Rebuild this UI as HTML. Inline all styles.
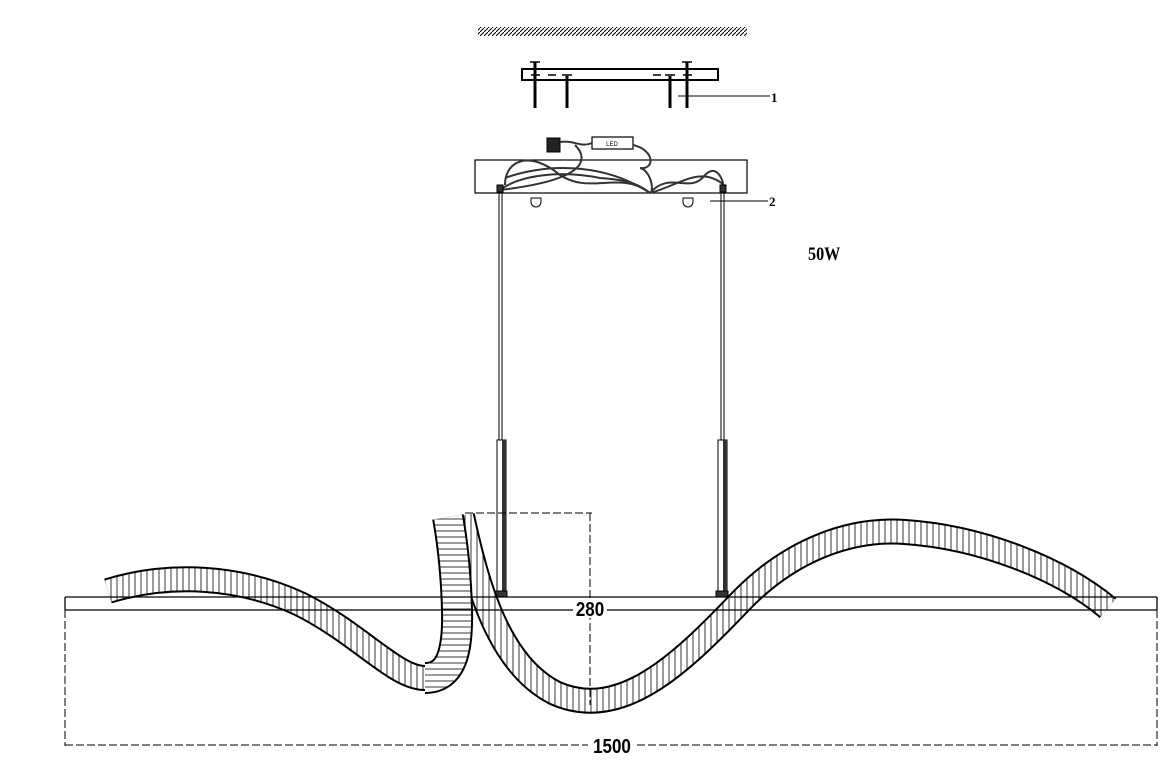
<!DOCTYPE html>
<html><head><meta charset="utf-8"><style>
html,body{margin:0;padding:0;background:#fff;}
svg{display:block;}
</style></head><body>
<svg width="1173" height="761" viewBox="0 0 1173 761" xmlns="http://www.w3.org/2000/svg">
<defs>
<pattern id="hc" width="4" height="4" patternUnits="userSpaceOnUse"><rect width="4" height="4" fill="#fff"/><path d="M0,4 L4,0" stroke="#000" stroke-width="1"/></pattern>
<pattern id="vh" width="6" height="6" patternUnits="userSpaceOnUse"><line x1="3" y1="0" x2="3" y2="6" stroke="#222" stroke-width="0.9"/></pattern>
<pattern id="hh" width="6" height="6" patternUnits="userSpaceOnUse"><line x1="0" y1="3" x2="6" y2="3" stroke="#222" stroke-width="0.9"/></pattern>
<path id="pA" d="M108,591 C170,572 240,576 300,604 C360,634 395,678 425,678"/>
<path id="pL" d="M425,678 C452,678 458,650 457,610 C456,570 452,540 448,517"/>
<path id="pB" d="M462,516 C478,590 500,665 555,693 C620,722 680,665 740,602 C790,550 850,528 905,532 C980,537 1060,568 1108,608"/>
<mask id="mA" maskUnits="userSpaceOnUse" x="0" y="0" width="1173" height="761"><use href="#pA" stroke="#fff" stroke-width="26" fill="none"/><use href="#pA" stroke="#000" stroke-width="22" fill="none"/></mask>
<mask id="mL" maskUnits="userSpaceOnUse" x="0" y="0" width="1173" height="761"><use href="#pL" stroke="#fff" stroke-width="32" fill="none"/><use href="#pL" stroke="#000" stroke-width="28" fill="none"/></mask>
<mask id="mB" maskUnits="userSpaceOnUse" x="0" y="0" width="1173" height="761"><use href="#pB" stroke="#fff" stroke-width="26" fill="none"/><use href="#pB" stroke="#000" stroke-width="22" fill="none"/></mask>
</defs>
<g fill="none" stroke="#000">
<!-- ceiling -->
<rect x="478" y="27" width="269" height="9" fill="url(#hc)" stroke="none"/>
<!-- bracket -->
<rect x="522" y="69" width="196" height="11" stroke-width="2"/>
<g stroke-width="1.5">
<line x1="535" y1="62" x2="535" y2="108" stroke-width="3"/><line x1="530" y1="62" x2="540" y2="62"/>
<line x1="687" y1="62" x2="687" y2="108" stroke-width="3"/><line x1="682" y1="62" x2="692" y2="62"/>
<line x1="567" y1="76" x2="567" y2="108" stroke-width="3"/><line x1="670" y1="76" x2="670" y2="108" stroke-width="3"/>
<line x1="548" y1="75" x2="556" y2="75"/><line x1="653" y1="75" x2="661" y2="75"/>
<line x1="531" y1="75" x2="540" y2="75"/><line x1="562" y1="75" x2="572" y2="75"/>
<line x1="665" y1="75" x2="675" y2="75"/><line x1="683" y1="75" x2="692" y2="75"/>
</g>
<line x1="678" y1="96" x2="770" y2="96" stroke-width="1"/>
<!-- canopy -->
<rect x="475" y="160" width="272" height="33" stroke-width="1.2"/>
<rect x="592" y="137" width="41" height="12" stroke-width="1.2"/>
<rect x="547" y="138" width="13" height="14" fill="#222" stroke-width="1"/>
<g stroke="#333" stroke-width="2">
<path d="M560,142 C575,140 580,148 592,143"/>
<path d="M575,145 C590,160 585,180 500,190"/>
<path d="M505,185 C505,160 530,150 560,175 C590,195 620,170 650,193"/>
<path d="M500,190 C520,175 560,170 600,178 C630,180 640,185 650,193"/>
<path d="M505,178 C540,165 600,160 650,193"/>
<path d="M633,145 C655,150 655,170 640,168 C650,170 655,190 650,193"/>
<path d="M650,193 C670,170 690,195 705,175 C715,165 722,175 724,188"/>
<path d="M650,193 C680,185 700,165 724,185"/>
</g>
<rect x="497" y="185" width="6" height="7" fill="#333" stroke-width="1"/>
<rect x="720" y="185" width="6" height="7" fill="#333" stroke-width="1"/>
<path d="M531,198 h10 v4 a5,5 0 0 1 -10,0z" stroke-width="1"/>
<path d="M683,198 h10 v4 a5,5 0 0 1 -10,0z" stroke-width="1"/>
<line x1="710" y1="201" x2="768" y2="201" stroke-width="1"/>
<!-- rods -->
<line x1="499" y1="192" x2="499" y2="440" stroke-width="1"/><line x1="502" y1="192" x2="502" y2="440" stroke-width="1"/>
<line x1="721" y1="192" x2="721" y2="440" stroke-width="1"/><line x1="724" y1="192" x2="724" y2="440" stroke-width="1"/>
<rect x="497" y="440" width="9" height="153" stroke-width="1"/><rect x="502" y="440" width="4" height="153" fill="#333" stroke="none"/>
<rect x="718" y="440" width="9" height="153" stroke-width="1"/><rect x="723" y="440" width="4" height="153" fill="#333" stroke="none"/>
<rect x="495" y="591" width="12" height="6" fill="#333" stroke-width="1"/>
<rect x="716" y="591" width="12" height="6" fill="#333" stroke-width="1"/>
<!-- ribbons: B behind loop -->
<use href="#pB" stroke="#fff" stroke-width="24"/>
<use href="#pB" stroke="url(#vh)" stroke-width="24"/>
<rect x="0" y="0" width="1173" height="761" fill="#000" stroke="none" mask="url(#mB)"/>
<use href="#pA" stroke="#fff" stroke-width="24"/>
<use href="#pA" stroke="url(#vh)" stroke-width="24"/>
<rect x="0" y="0" width="1173" height="761" fill="#000" stroke="none" mask="url(#mA)"/>
<use href="#pL" stroke="#fff" stroke-width="30"/>
<use href="#pL" stroke="url(#hh)" stroke-width="30"/>
<rect x="0" y="0" width="1173" height="761" fill="#000" stroke="none" mask="url(#mL)"/>
<!-- horizontal band -->
<line x1="65" y1="597" x2="1157" y2="597" stroke-width="1.3"/>
<line x1="65" y1="610" x2="1157" y2="610" stroke-width="1.3"/>
<line x1="65" y1="597" x2="65" y2="610" stroke-width="1.3"/>
<line x1="1157" y1="597" x2="1157" y2="610" stroke-width="1.3"/>
<!-- dims -->
<g stroke-width="1" stroke-dasharray="8,3">
<line x1="65" y1="610" x2="65" y2="746"/><line x1="1157" y1="610" x2="1157" y2="746"/>
<line x1="65" y1="745" x2="1157" y2="745"/>
<line x1="465" y1="513" x2="592" y2="513"/>
<line x1="590" y1="513" x2="590" y2="705"/>
</g>
</g>
<g font-family="Liberation Sans, sans-serif" fill="#000">
<rect x="573" y="598" width="34" height="20" fill="#fff"/>
<text x="590" y="616" font-size="20" text-anchor="middle" font-weight="bold" transform="translate(590 0) scale(0.85 1) translate(-590 0)">280</text>
<rect x="588" y="736" width="48" height="18" fill="#fff"/>
<text x="612" y="753" font-size="20" text-anchor="middle" font-weight="bold" transform="translate(612 0) scale(0.85 1) translate(-612 0)">1500</text>
<text x="808" y="260" font-size="19" font-weight="bold" font-family="Liberation Serif, serif" transform="translate(808 0) scale(0.85 1) translate(-808 0)">50W</text>
<text x="771" y="102" font-size="13" font-weight="bold" font-family="Liberation Serif, serif">1</text>
<text x="769" y="206" font-size="13" font-weight="bold" font-family="Liberation Serif, serif">2</text>
<text x="612" y="146" font-size="6" text-anchor="middle">LED</text>
</g>
</svg>
</body></html>
